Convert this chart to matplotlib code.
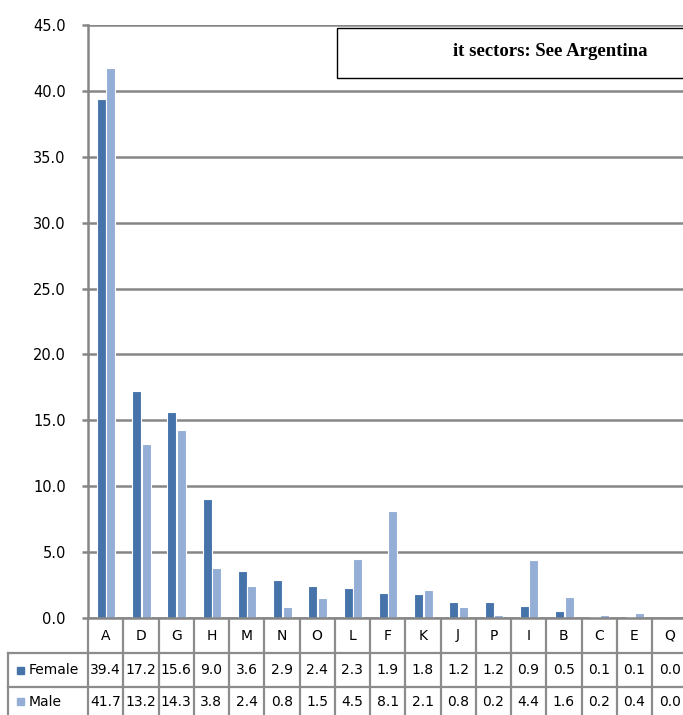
import matplotlib.pyplot as plt
import numpy as np

categories = ["A", "D", "G", "H", "M", "N", "O", "L", "F", "K", "J", "P", "I", "B", "C", "E", "Q"]
female = [39.4, 17.2, 15.6, 9.0, 3.6, 2.9, 2.4, 2.3, 1.9, 1.8, 1.2, 1.2, 0.9, 0.5, 0.1, 0.1, 0.0]
male = [41.7, 13.2, 14.3, 3.8, 2.4, 0.8, 1.5, 4.5, 8.1, 2.1, 0.8, 0.2, 4.4, 1.6, 0.2, 0.4, 0.0]
series = ["Female", "Male"]
colors = ["#4674AA", "#95AED6"]
title = "it sectors: See Argentina"

W, H = 683, 715
fig = plt.figure(figsize=(W / 100, H / 100), dpi=100)
grid_c = "#868686"

# main chart area (pixel geometry from the reference)
x0, cat_w, n = 88, 35.25, len(categories)
y_zero, y_top = 618, 25
ax = fig.add_axes([x0 / W, (H - y_zero) / H, n * cat_w / W, (y_zero - y_top) / H])
x = np.arange(n)
ax.bar(x - 0.12, female, 0.26, color=colors[0], edgecolor="white", linewidth=0.8, zorder=3)
ax.bar(x + 0.15, male, 0.26, color=colors[1], edgecolor="white", linewidth=0.8, zorder=3)
ax.set_xlim(-0.5, n - 0.5)
ax.set_ylim(0, 45)
ax.set_yticks(np.arange(0, 46, 5))
ax.set_yticklabels(["%.1f" % v for v in np.arange(0, 46, 5)], fontsize=10.5)
ax.set_xticks([])
ax.yaxis.grid(True, color=grid_c, linewidth=1.8, zorder=0)
ax.tick_params(axis="y", length=4, width=1.8, color=grid_c, pad=12)
for s in ["top", "right", "bottom"]:
    ax.spines[s].set_visible(False)
ax.spines["left"].set_color(grid_c)
ax.spines["left"].set_linewidth(1.8)

# data table below the chart, drawn in pixel coordinates
tab = fig.add_axes([0, 0, 1, 1])
tab.set_xlim(0, W)
tab.set_ylim(H, 0)
tab.axis("off")
row_y = [618, 653, 687, 720]
lc = "#8c8c8c"
tab.plot([x0, x0 + n * cat_w], [row_y[0], row_y[0]], color=grid_c, lw=1.8)
for yy in row_y[1:3]:
    tab.plot([8, x0 + n * cat_w], [yy, yy], color=lc, lw=1.6)
for i in range(n + 1):
    tab.plot([x0 + i * cat_w] * 2, [row_y[0] + 2, H], color=lc, lw=1.6)
tab.plot([8, 8], [row_y[1], H], color=lc, lw=1.6)
for i, c in enumerate(categories):
    cx = x0 + (i + 0.5) * cat_w
    tab.text(cx, (row_y[0] + row_y[1]) / 2, c, ha="center", va="center", fontsize=10)
    tab.text(cx, (row_y[1] + row_y[2]) / 2, "%.1f" % female[i], ha="center", va="center", fontsize=10)
    tab.text(cx, (row_y[2] + row_y[3]) / 2 - 2, "%.1f" % male[i], ha="center", va="center", fontsize=10)
for r, (name, col) in enumerate(zip(series, colors)):
    cy = (row_y[r + 1] + row_y[r + 2]) / 2 - (2 if r == 1 else 0)
    tab.add_patch(plt.Rectangle((17, cy - 3.5), 7, 7, color=col))
    tab.text(29, cy, name, ha="left", va="center", fontsize=10)

# title box, cut off on the right as in the reference
tab.add_patch(plt.Rectangle((337, 28), 360, 50, fill=False, edgecolor="black", lw=1, clip_on=False))
tab.text(453, 52, title, ha="left", va="center", fontsize=13.5, fontweight="bold",
         family="Liberation Serif")

fig.savefig("out.png", dpi=100)
